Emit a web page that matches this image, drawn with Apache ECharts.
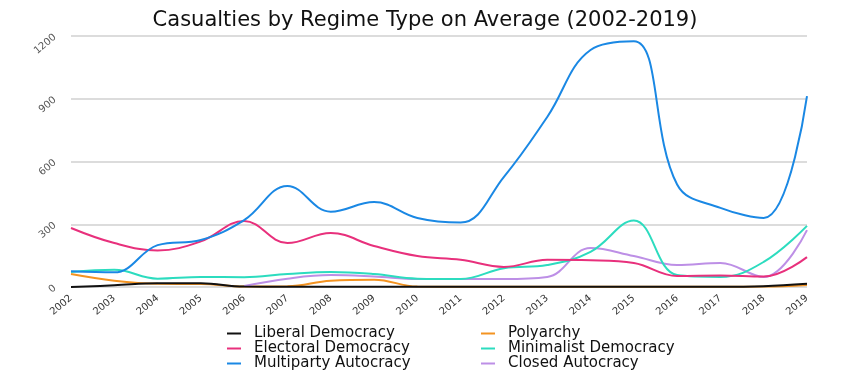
<!DOCTYPE html>
<html>
<head>
<meta charset="utf-8">
<script src="https://cdn.jsdelivr.net/npm/echarts@6/dist/echarts.min.js"></script>
<style>
  html, body { margin: 0; padding: 0; background: #fff; }
  #chart { width: 850px; height: 377px; }
</style>
</head>
<body>
<div id="chart"></div>
<script>
  const years = ['2002','2003','2004','2005','2006','2007','2008','2009','2010','2011','2012','2013','2014','2015','2016','2017','2018','2019'];

  const liberalDemocracy    = [0, 8, 18, 18, 2, 1, 1, 1, 1, 1, 1, 1, 1, 1, 1, 1, 4, 15];
  const polyarchy           = [62, 30, 15, 14, 2, 3, 30, 35, 2, 1, 1, 1, 1, 1, 1, 1, 2, 10];
  const electoralDemocracy  = [282, 210, 175, 218, 316, 210, 258, 196, 148, 130, 96, 130, 128, 115, 53, 55, 50, 143];
  const minimalistDemocracy = [72, 82, 40, 48, 47, 62, 72, 62, 40, 38, 90, 105, 168, 318, 57, 48, 120, 292];
  const multipartyAutocracy = [75, 70, 200, 225, 320, 483, 360, 406, 330, 308, 527, 813, 1133, 1175, 490, 378, 330, 913];
  const closedAutocracy     = [null, null, null, null, 5, 40, 57, 50, 38, 38, 38, 48, 186, 148, 105, 115, 48, 272];

  const yTicks = [0, 300, 600, 900, 1200];

  const FONT = 'DejaVu Sans';

  function line(name, data, color){
    return {
      name: name,
      type: 'line',
      data: data,
      smooth: 0.4,
      showSymbol: false,
      symbol: 'none',
      lineStyle: { width: 2, color: color },
      itemStyle: { color: color }
    };
  }

  const legendBase = {
    orient: 'vertical',
    top: 321,
    height: 60,
    itemGap: 0,
    itemWidth: 14,
    itemHeight: 2,
    icon: 'rect',
    textStyle: { fontFamily: FONT, fontSize: 15, lineHeight: 14, color: '#111', padding: [0, 0, 0, 8] }
  };

  const chart = echarts.init(document.getElementById('chart'), null, { renderer: 'canvas' });
  chart.setOption({
    animation: false,
    backgroundColor: '#fff',
    title: {
      text: 'Casualties by Regime Type on Average (2002-2019)',
      left: 'center',
      top: 5,
      textStyle: { fontFamily: FONT, fontSize: 21, fontWeight: 'normal', color: '#111' }
    },
    grid: { left: 71, right: 43, top: 36, bottom: 90 },
    xAxis: {
      type: 'category',
      data: years,
      boundaryGap: false,
      axisLine: { show: false },
      axisTick: { show: false },
      axisLabel: { rotate: 40, fontFamily: FONT, fontSize: 10, color: '#333', margin: 10 }
    },
    yAxis: {
      type: 'value',
      min: yTicks[0],
      max: yTicks[yTicks.length - 1],
      interval: 300,
      axisLine: { show: false },
      axisTick: { show: false },
      axisLabel: {
        rotate: 40, fontFamily: FONT, fontSize: 10, color: '#555', margin: 16,
        formatter: (v) => String(v)
      },
      splitLine: { lineStyle: { color: '#dcdcdc', width: 2 } }
    },
    legend: [
      Object.assign({}, legendBase, {
        left: 222,
        data: ['Liberal Democracy', 'Electoral Democracy', 'Multiparty Autocracy']
      }),
      Object.assign({}, legendBase, {
        left: 476,
        data: ['Polyarchy', 'Minimalist Democracy', 'Closed Autocracy']
      })
    ],
    series: [
      line('Polyarchy', polyarchy, '#f39321'),
      line('Closed Autocracy', closedAutocracy, '#bd8fe6'),
      line('Minimalist Democracy', minimalistDemocracy, '#2cdcbf'),
      line('Electoral Democracy', electoralDemocracy, '#e8307c'),
      line('Multiparty Autocracy', multipartyAutocracy, '#1a88e4'),
      line('Liberal Democracy', liberalDemocracy, '#111111')
    ]
  });
</script>
</body>
</html>
